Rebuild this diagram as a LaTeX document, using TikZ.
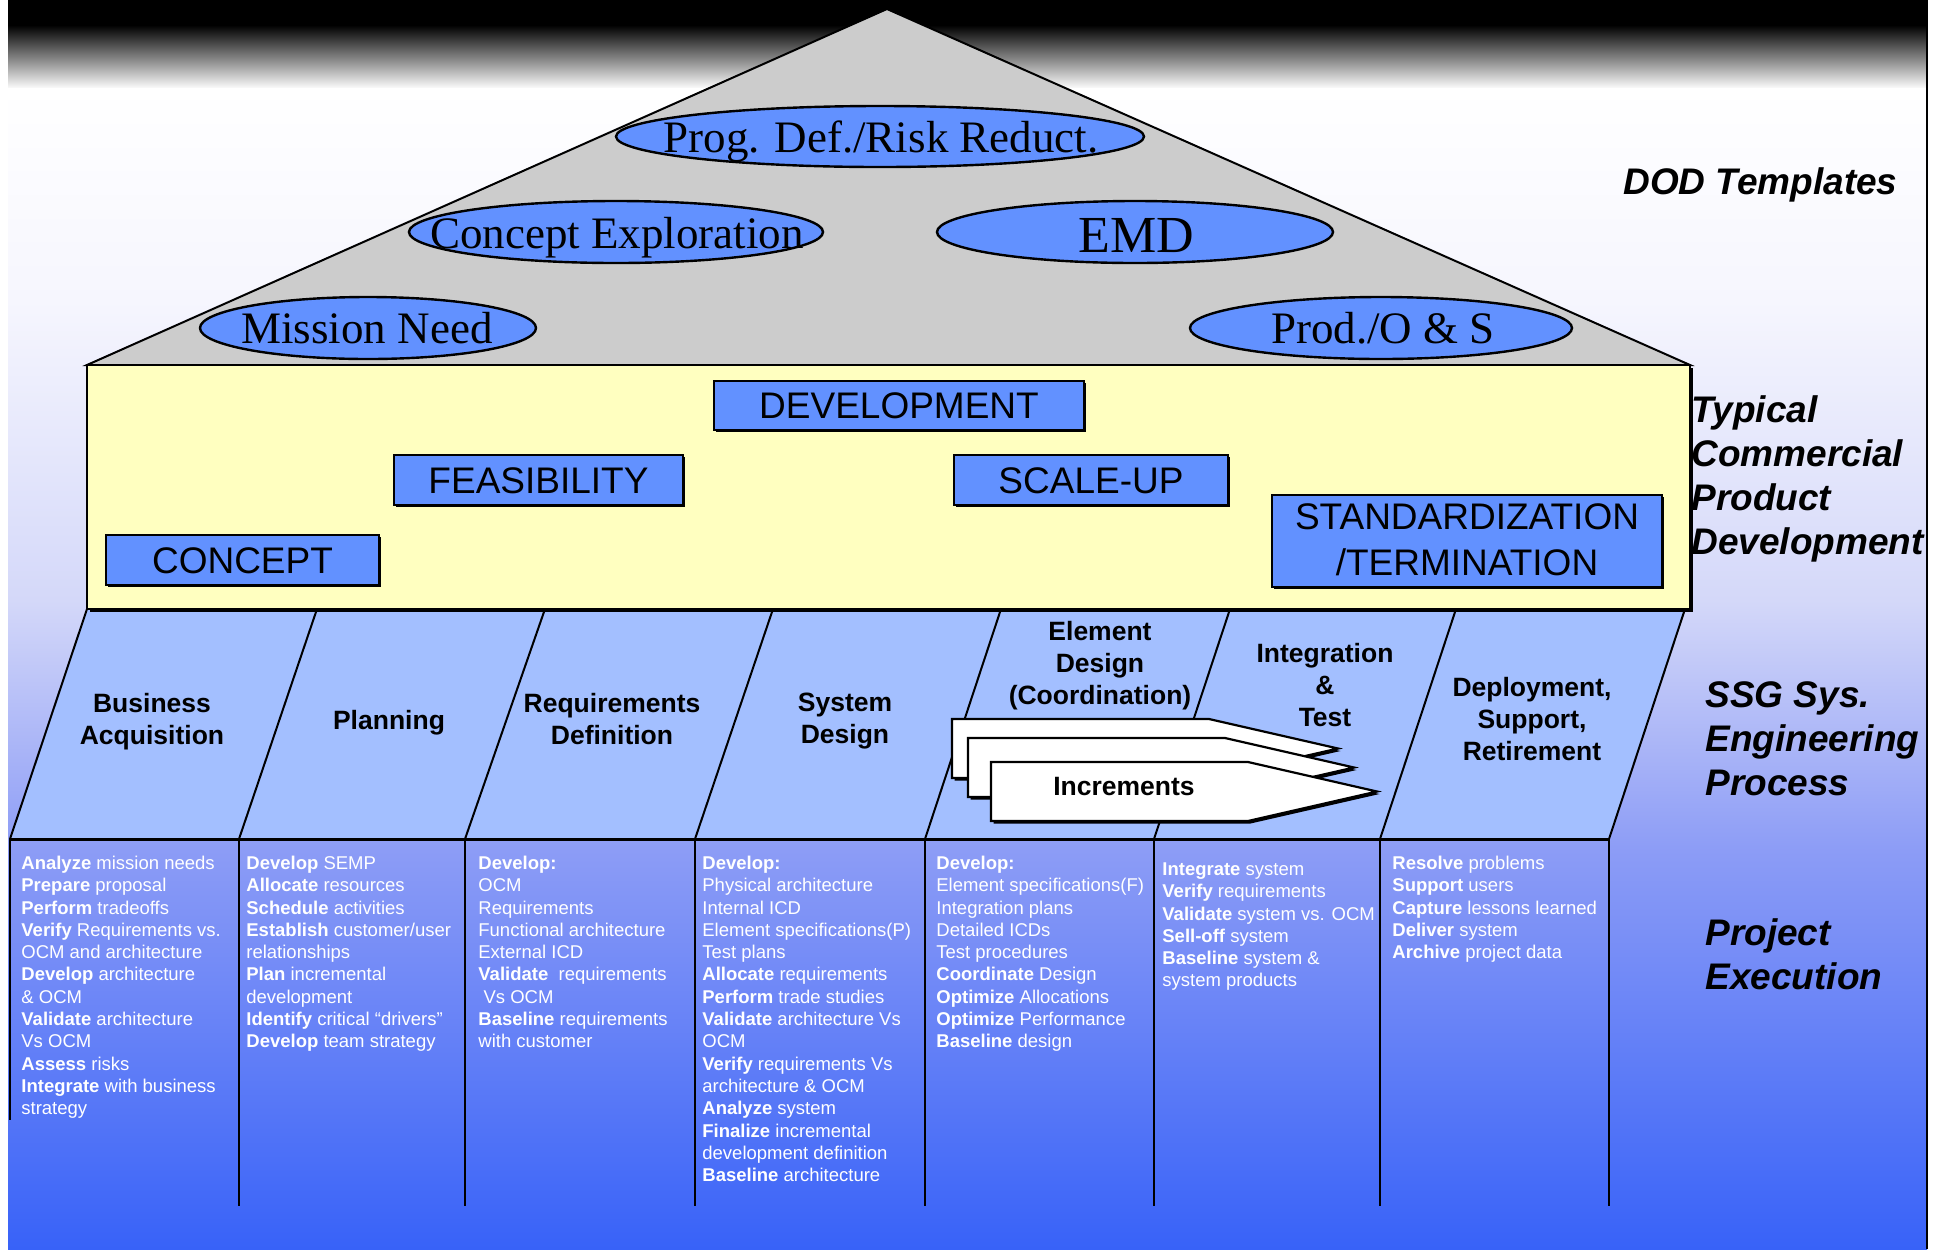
\documentclass[tikz,border=0pt]{standalone}
\usepackage{fontspec}
\setmainfont{Liberation Sans}
\newfontfamily\tnr{Liberation Serif}
\usetikzlibrary{shapes.geometric,shadows}
\definecolor{bandblue}{RGB}{163,191,255}
\definecolor{boxblue}{RGB}{98,145,255}
\definecolor{roofgray}{RGB}{204,204,204}
\definecolor{paleyellow}{RGB}{255,255,192}
\definecolor{bgA}{RGB}{246,246,254}
\definecolor{bgB}{RGB}{212,216,249}
\definecolor{bgC}{RGB}{140,156,246}
\definecolor{bgD}{RGB}{56,98,248}
\tikzset{
  ell/.style={ellipse, draw=black, line width=1.2pt, fill=boxblue, inner sep=0pt},
  elltext/.style={font=\tnr\fontsize{22.5}{27}\selectfont, inner sep=0pt, anchor=base},
  bluebox/.style={rectangle, draw=black, line width=1.2pt, fill=boxblue, inner sep=0pt,
     font=\fontsize{18.5}{23}\selectfont,
     drop shadow={opacity=1, fill=black, shadow xshift=0.9pt, shadow yshift=-0.9pt, shadow scale=1}},
  oneline/.style={text height=13.25pt, text depth=0pt},
  sidelabel/.style={font=\bfseries\itshape\fontsize{18.5}{22}\selectfont, align=left, inner sep=0pt, anchor=north west},
  bandlabel/.style={font=\bfseries\fontsize{13.25}{16}\selectfont, align=center, inner sep=0pt, anchor=north},
  tabtext/.style={font=\fontsize{9.25}{11.15}\selectfont, text=white, align=left, inner sep=0pt, anchor=north west},
  divider/.style={line width=1pt},
  colline/.style={line width=1.2pt},
  arrowshape/.style={fill=white, draw=black, line width=1.1pt, line join=miter},
}
\begin{document}
\begin{tikzpicture}[x=0.5pt,y=-0.5pt]
\useasboundingbox (0,0) rectangle (1940,1249);
% ---------- background ----------
\fill[black] (8,0) rectangle (1927,26);
\shade[top color=black,bottom color=white] (8,25) rectangle (1927,89);
\shade[top color=white,bottom color=bgA] (8,88) rectangle (1927,301);
\shade[top color=bgA,bottom color=bgB] (8,300) rectangle (1927,601);
\shade[top color=bgB,bottom color=bgC] (8,600) rectangle (1927,851);
\shade[top color=bgC,bottom color=bgD] (8,850) rectangle (1927,1249);
\draw[line width=1pt] (1927,0) -- (1927,1249);
% ---------- roof ----------
\filldraw[fill=roofgray, draw=black, line width=1pt, line join=miter] (887,9) -- (1690,365) -- (87,365) -- cycle;
% ---------- process band ----------
\fill[bandblue] (87,609) -- (1685,609) -- (1609,839) -- (10,839) -- cycle;
\foreach \t/\b in {87/10, 317/239, 545/465, 773/695, 1001/925, 1230/1154, 1456/1380, 1685/1609}
  \draw[divider] (\t,609) -- (\b,839);
\draw[line width=1.5pt] (10,839) -- (1609,839);
\draw[colline] (10,839) -- (10,1120);
\foreach \b in {239,465,695,925,1154,1380,1609}
  \draw[colline] (\b,839) -- (\b,1206);
% ---------- yellow box ----------
\fill[black] (90,368) rectangle (1693,612);
\filldraw[fill=paleyellow, draw=black, line width=1pt] (87,365) rectangle (1690,609);
% ---------- ellipses ----------
\node[ell, minimum width=264pt, minimum height=30.5pt] (prog) at (880,136.5) {};
\node[ell, minimum width=207pt, minimum height=31pt] (concx) at (616,232) {};
\node[ell, minimum width=198pt, minimum height=31pt] (emd) at (1135,232) {};
\node[ell, minimum width=168pt, minimum height=31pt] (mission) at (368,328) {};
\node[ell, minimum width=191pt, minimum height=31pt] (prod) at (1381,328) {};
\node[elltext] (progt) at (881,152) {Prog. Def./Risk Reduct.};
\node[elltext] (concxt) at (617,248) {Concept Exploration};
\node[elltext, font=\tnr\fontsize{26}{30}\selectfont] (emdt) at (1136,252) {EMD};
\node[elltext] (missiont) at (367,343) {Mission Need};
\node[elltext] (prodt) at (1383,343) {Prod./O \& S};
% ---------- blue boxes ----------
\node[bluebox, oneline, minimum width=185pt, minimum height=24.5pt] (dev) at (899,405.5) {DEVELOPMENT};
\node[bluebox, oneline, minimum width=144.5pt, minimum height=25pt] (feas) at (538.5,480) {FEASIBILITY};
\node[bluebox, oneline, minimum width=137pt, minimum height=25pt] (scale) at (1091,480) {SCALE-UP};
\node[bluebox, oneline, minimum width=136.5pt, minimum height=25pt] (concept) at (242.5,560) {CONCEPT};
\node[bluebox, minimum width=195pt, minimum height=46pt] (stand) at (1467,541) {};
\node[font=\fontsize{18.5}{23}\selectfont, align=center, inner sep=0pt, anchor=north] (standt) at (1467,503) {STANDARDIZATION\\/TERMINATION};
% ---------- increments arrows ----------
\foreach \ax/\ay in {952/719, 968/738, 991/762}{
  \fill[black] (\ax+2.5,\ay+2.5) -- ++(257,0) -- ++(129,29.5) -- ++(-129,29.5) -- ++(-257,0) -- cycle;
  \filldraw[arrowshape] (\ax,\ay) -- ++(257,0) -- ++(129,29.5) -- ++(-129,29.5) -- ++(-257,0) -- cycle;
}
\node[font=\bfseries\fontsize{13.25}{16}\selectfont, inner sep=0pt, anchor=base] (incr) at (1124,795.5) {Increments};
% ---------- band labels ----------
\node[bandlabel] (bus) at (152,693) {Business\\Acquisition};
\node[bandlabel] (plan) at (389,710) {Planning};
\node[bandlabel] (req) at (612,693) {Requirements\\Definition};
\node[bandlabel] (sys) at (845,693) {System\\Design};
\node[bandlabel] (elem) at (1100,621) {Element\\Design\\(Coordination)};
\node[bandlabel] (integ) at (1325,643) {Integration\\\&\\Test};
\node[bandlabel] (deploy) at (1532,677) {Deployment,\\Support,\\Retirement};
% ---------- side labels ----------
\node[font=\bfseries\itshape\fontsize{18.5}{22}\selectfont, inner sep=0pt, anchor=base west] (dod) at (1623,194) {DOD Templates};
\node[sidelabel] (typ) at (1691,395) {Typical\\Commercial\\Product\\Development};
\node[sidelabel] (ssg) at (1705,681) {SSG Sys.\\Engineering\\Process};
\node[sidelabel] (proj) at (1705,918) {Project\\Execution};
% ---------- table texts ----------
\node[tabtext] (c1) at (21,853.4) {\strut\textbf{Analyze} mission needs\\
\textbf{Prepare} proposal\\
\textbf{Perform} tradeoffs\\
\textbf{Verify} Requirements vs.\\
OCM and architecture\\
\textbf{Develop} architecture\\
\& OCM\\
\textbf{Validate} architecture\\
Vs OCM\\
\textbf{Assess} risks\\
\textbf{Integrate} with business\\
strategy};
\node[tabtext] (c2) at (246,853.4) {\strut\textbf{Develop} SEMP\\
\textbf{Allocate} resources\\
\textbf{Schedule} activities\\
\textbf{Establish} customer/user\\
relationships\\
\textbf{Plan} incremental\\
development\\
\textbf{Identify} critical “drivers”\\
\textbf{Develop} team strategy};
\node[tabtext] (c3) at (478,853.4) {\strut\textbf{Develop:}\\
OCM\\
Requirements\\
Functional architecture\\
External ICD\\
\textbf{Validate}\ \ requirements\\
\ Vs OCM\\
\textbf{Baseline} requirements\\
with customer};
\node[tabtext] (c4) at (702,853.4) {\strut\textbf{Develop:}\\
Physical architecture\\
Internal ICD\\
Element specifications(P)\\
Test plans\\
\textbf{Allocate} requirements\\
\textbf{Perform} trade studies\\
\textbf{Validate} architecture Vs\\
OCM\\
\textbf{Verify} requirements Vs\\
architecture \& OCM\\
\textbf{Analyze} system\\
\textbf{Finalize} incremental\\
development definition\\
\textbf{Baseline} architecture};
\node[tabtext] (c5) at (936,853.4) {\strut\textbf{Develop:}\\
Element specifications(F)\\
Integration plans\\
Detailed ICDs\\
Test procedures\\
\textbf{Coordinate} Design\\
\textbf{Optimize} Allocations\\
\textbf{Optimize} Performance\\
\textbf{Baseline} design};
\node[tabtext] (c6) at (1162,859.4) {\strut\textbf{Integrate} system\\
\textbf{Verify} requirements\\
\textbf{Validate} system vs. OCM\\
\textbf{Sell-off} system\\
\textbf{Baseline} system \&\\
system products};
\node[tabtext] (c7) at (1392,853.4) {\strut\textbf{Resolve} problems\\
\textbf{Support} users\\
\textbf{Capture} lessons learned\\
\textbf{Deliver} system\\
\textbf{Archive} project data};
\end{tikzpicture}
\end{document}
